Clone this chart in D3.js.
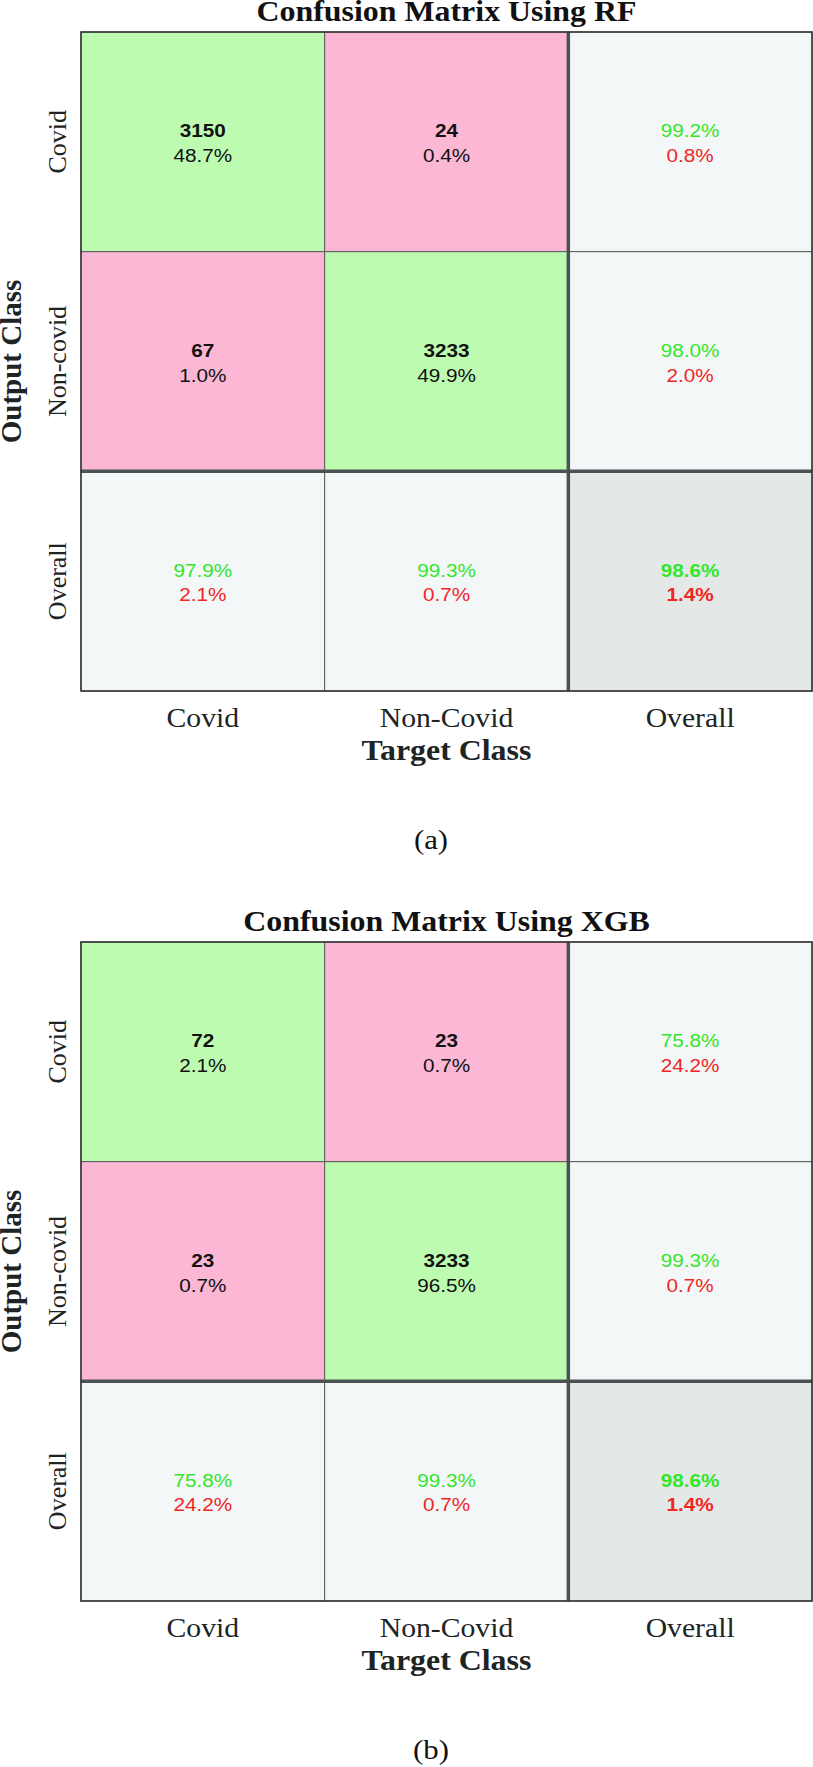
<!DOCTYPE html>
<html>
<head>
<meta charset="utf-8">
<script src="https://cdn.jsdelivr.net/npm/d3@7"></script>
<style>
  html, body { margin: 0; padding: 0; background: #ffffff; }
  svg { display: block; }
</style>
</head>
<body>
<div id="chart"></div>
<script>
// ---------- data ----------
const targetClasses = ["Covid", "Non-Covid", "Overall"];
const outputClasses = ["Covid", "Non-covid", "Overall"];

const rfTitle = "Confusion Matrix Using RF";
const rfCounts = [[3150, 24], [67, 3233]];
const rfPercents = [[48.7, 0.4], [1.0, 49.9]];
const rfRowSummary = [[99.2, 0.8], [98.0, 2.0]];   // right column (per output class)
const rfColSummary = [[97.9, 2.1], [99.3, 0.7]];   // bottom row (per target class)
const rfOverall = [98.6, 1.4];

const xgbTitle = "Confusion Matrix Using XGB";
const xgbCounts = [[72, 23], [23, 3233]];
const xgbPercents = [[2.1, 0.7], [0.7, 96.5]];
const xgbRowSummary = [[75.8, 24.2], [99.3, 0.7]];
const xgbColSummary = [[75.8, 24.2], [99.3, 0.7]];
const xgbOverall = [98.6, 1.4];

const captions = ["(a)", "(b)"];

// ---------- layout ----------
const W = 813, H = 1767;
const left = 81, right = 812;
const panelTops = [32, 942];
const panelH = 659;
const SX = 1.1;          // horizontal stretch of the reference's text
const serif = "'Liberation Serif', 'Times New Roman', Times, serif";
const sans = "'Liberation Sans', Arial, Helvetica, sans-serif";

const colors = {
  correct: "#bdfbb1",
  wrong: "#fbb7d3",
  summary: "#f3f7f8",
  overall: "#e4e9e7",
  good: "#33e62a",
  bad: "#f0261f",
  ink: "#111111",
  thin: "#5a5a5a",
  thick: "#4a5253",
  frame: "#333333"
};

const pct = d3.format(".1f");

const svg = d3.select("#chart").append("svg")
  .attr("width", W).attr("height", H);

function drawPanel(top, title, counts, percents, rowSum, colSum, overall, caption) {
  const bottom = top + panelH;
  const x = d3.scaleBand().domain(targetClasses).range([left, right]);
  const y = d3.scaleBand().domain(outputClasses).range([top, bottom]);
  const g = svg.append("g");

  // build cells
  const cells = [];
  outputClasses.forEach((r, i) => {
    targetClasses.forEach((c, j) => {
      let cell = { r, c, i, j };
      if (i < 2 && j < 2) {
        cell.fill = i === j ? colors.correct : colors.wrong;
        cell.lines = [
          { t: String(counts[i][j]), color: colors.ink, bold: true },
          { t: pct(percents[i][j]) + "%", color: colors.ink, bold: false }
        ];
      } else if (i < 2 && j === 2) {
        cell.fill = colors.summary;
        cell.lines = [
          { t: pct(rowSum[i][0]) + "%", color: colors.good, bold: false },
          { t: pct(rowSum[i][1]) + "%", color: colors.bad, bold: false }
        ];
      } else if (i === 2 && j < 2) {
        cell.fill = colors.summary;
        cell.lines = [
          { t: pct(colSum[j][0]) + "%", color: colors.good, bold: false },
          { t: pct(colSum[j][1]) + "%", color: colors.bad, bold: false }
        ];
      } else {
        cell.fill = colors.overall;
        cell.lines = [
          { t: pct(overall[0]) + "%", color: colors.good, bold: true },
          { t: pct(overall[1]) + "%", color: colors.bad, bold: true }
        ];
      }
      cells.push(cell);
    });
  });

  g.selectAll("rect.cell").data(cells).enter().append("rect")
    .attr("class", "cell")
    .attr("x", d => x(d.c)).attr("y", d => y(d.r))
    .attr("width", x.bandwidth()).attr("height", y.bandwidth())
    .attr("fill", d => d.fill)
    .attr("stroke", colors.thin).attr("stroke-width", 1);

  // thick separators for summary row/column
  g.append("line")
    .attr("x1", x("Overall")).attr("x2", x("Overall"))
    .attr("y1", top).attr("y2", bottom)
    .attr("stroke", colors.thick).attr("stroke-width", 3.5);
  g.append("line")
    .attr("x1", left).attr("x2", right)
    .attr("y1", y("Overall")).attr("y2", y("Overall"))
    .attr("stroke", colors.thick).attr("stroke-width", 3.5);

  // frame
  g.append("rect")
    .attr("x", left).attr("y", top)
    .attr("width", right - left).attr("height", bottom - top)
    .attr("fill", "none").attr("stroke", colors.frame).attr("stroke-width", 1.5);

  // cell texts
  const offsets = [-4.5, 20];
  cells.forEach(d => {
    const cx = x(d.c) + x.bandwidth() / 2;
    const cy = y(d.r) + y.bandwidth() / 2;
    d.lines.forEach((ln, k) => {
      g.append("text")
        .attr("transform", `translate(${cx},${cy + offsets[k]}) scale(1.12,1)`)
        .attr("text-anchor", "middle")
        .attr("font-family", sans)
        .attr("font-size", 18.5)
        .attr("font-weight", ln.bold ? "bold" : "normal")
        .attr("fill", ln.color)
        .text(ln.t);
    });
  });

  // x axis
  const xAxis = g.append("g")
    .attr("transform", `translate(0,${bottom})`)
    .call(d3.axisBottom(x).tickSize(0));
  xAxis.select(".domain").remove();
  xAxis.selectAll("text")
    .attr("y", 36).attr("dy", 0)
    .attr("transform", `scale(${SX},1)`)
    .attr("font-family", serif).attr("font-size", 27)
    .attr("fill", "#1e2424");

  // y axis
  const yAxis = g.append("g")
    .attr("transform", `translate(${left},0)`)
    .call(d3.axisLeft(y).tickSize(0));
  yAxis.select(".domain").remove();
  yAxis.selectAll("text")
    .attr("x", 0).attr("y", 0).attr("dy", 0)
    .attr("text-anchor", "middle")
    .attr("transform", "translate(-15,0) rotate(-90)")
    .attr("font-family", serif).attr("font-size", 26)
    .attr("fill", "#1e2424");

  // title
  g.append("text")
    .attr("transform", `translate(${(left + right) / 2},${top - 11}) scale(${SX},1)`)
    .attr("text-anchor", "middle")
    .attr("font-family", serif).attr("font-weight", "bold").attr("font-size", 29)
    .attr("fill", "#111")
    .text(title);

  // x label
  g.append("text")
    .attr("transform", `translate(${(left + right) / 2},${bottom + 69}) scale(${SX},1)`)
    .attr("text-anchor", "middle")
    .attr("font-family", serif).attr("font-weight", "bold").attr("font-size", 29)
    .attr("fill", "#1e2424")
    .text("Target Class");

  // y label
  g.append("text")
    .attr("transform", `translate(21,${(top + bottom) / 2}) rotate(-90)`)
    .attr("text-anchor", "middle")
    .attr("font-family", serif).attr("font-weight", "bold").attr("font-size", 29)
    .attr("fill", "#1e2424")
    .text("Output Class");

  // caption
  g.append("text")
    .attr("transform", `translate(431,${bottom + 158}) scale(${SX},1)`)
    .attr("text-anchor", "middle")
    .attr("font-family", serif).attr("font-size", 28)
    .attr("fill", "#111")
    .text(caption);
}

drawPanel(panelTops[0], rfTitle, rfCounts, rfPercents, rfRowSummary, rfColSummary, rfOverall, captions[0]);
drawPanel(panelTops[1], xgbTitle, xgbCounts, xgbPercents, xgbRowSummary, xgbColSummary, xgbOverall, captions[1]);
</script>
</body>
</html>
